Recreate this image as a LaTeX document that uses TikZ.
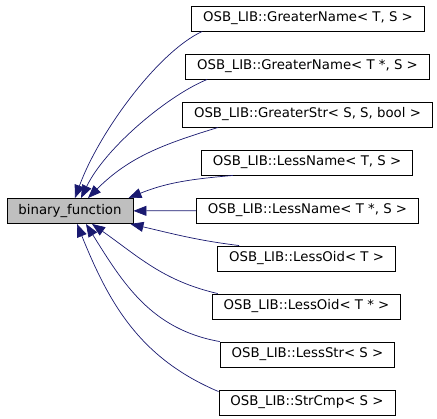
\documentclass[tikz,border=0pt]{standalone}
\usepackage{fontspec}
\setmainfont{DejaVu Sans}
\usetikzlibrary{arrows.meta}
\definecolor{edgeblue}{HTML}{191970}
\definecolor{basegray}{HTML}{BFBFBF}

\begin{document}
\begin{tikzpicture}[x=1pt,y=1pt]
\tikzstyle{cls}=[rectangle, draw, line width=0.9pt, inner xsep=11.5pt, inner ysep=0pt, minimum height=25pt, font=\fontsize{13.3}{16}\selectfont]
\tikzstyle{every node}=[cls]
\tikzstyle{inherit}=[draw=edgeblue, line width=0.7pt, -{Triangle[length=13pt,width=10pt,fill=edgeblue]}]
\useasboundingbox (0,0) rectangle (437,-419);

\node[fill=basegray] (binfunc) at (70,-211) {binary\_function};

\node (greaterName1) at (308,-18.5) {OSB\_LIB::GreaterName< T, S >};
\node (greaterName2) at (307.5,-66.5) {OSB\_LIB::GreaterName< T *, S >};
\node (greaterStr) at (307.5,-114.5) {OSB\_LIB::GreaterStr< S, S, bool >};
\node (lessName1) at (307,-162.5) {OSB\_LIB::LessName< T, S >};
\node (lessName2) at (307.5,-210.5) {OSB\_LIB::LessName< T *, S >};
\node (lessOid1) at (306.5,-258.5) {OSB\_LIB::LessOid< T >};
\node (lessOid2) at (306.5,-306.5) {OSB\_LIB::LessOid< T * >};
\node (lessStr) at (307.5,-354.5) {OSB\_LIB::LessStr< S >};
\node (strCmp) at (307,-402.5) {OSB\_LIB::StrCmp< S >};

\draw[inherit] ([xshift=11pt]greaterName1.south west) to[out=205,in=70,out looseness=0.6,in looseness=0.85] ([xshift=5pt]binfunc.north);
\draw[inherit] ([xshift=22pt]greaterName2.south west) to[out=202,in=64,out looseness=0.6,in looseness=0.85] ([xshift=11pt]binfunc.north);
\draw[inherit] ([xshift=36pt]greaterStr.south west) to[out=197,in=45] ([xshift=18pt]binfunc.north);
\draw[inherit] ([xshift=32pt]lessName1.south west) to[out=185,in=22] ([xshift=-5pt]binfunc.north east);
\draw[inherit] (lessName2) -- (binfunc);
\draw[inherit] ([xshift=22pt]lessOid1.north west) to[out=173,in=-13] ([xshift=-3pt]binfunc.south east);
\draw[inherit] ([xshift=6pt]lessOid2.north west) to[out=167,in=-35] ([xshift=22pt]binfunc.south);
\draw[inherit] (lessStr.north west) to[out=170,in=-58] ([xshift=16pt]binfunc.south);
\draw[inherit] ([yshift=-2pt]strCmp.north west) to[out=157,in=-68] ([xshift=7pt]binfunc.south);
\end{tikzpicture}
\end{document}
